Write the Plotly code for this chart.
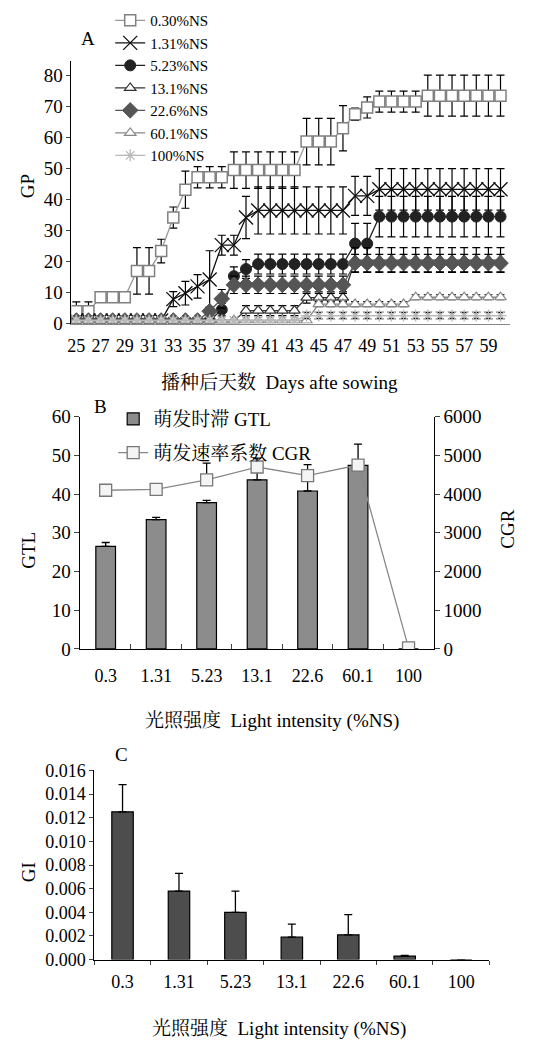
import plotly.graph_objects as go

# ---------------- Panel A data ----------------
days = list(range(25, 61))
day_ticks = list(range(25, 60, 2))

gp_030 = [4, 4, 8.5, 8.5, 8.5, 17, 17, 23.4, 34.2, 43.2, 47.2, 47.2, 47.2,
          49.5, 49.5, 49.5, 49.5, 49.5, 49.5, 58.7, 58.7, 58.7, 63, 67.5, 69.7,
          71.6, 71.6, 71.6, 71.6, 73.5, 73.5, 73.5, 73.5, 73.5, 73.5, 73.5]
err_030 = [3, 3, 0, 0, 0, 7.5, 7.5, 3.8, 3.4, 6, 3.4, 3.4, 3.4,
           5.9, 5.9, 5.9, 5.9, 5.9, 5.9, 7.5, 7.5, 7.5, 7.3, 2, 3.4,
           3.4, 3.4, 3.4, 3.4, 6.6, 6.6, 6.6, 6.6, 6.6, 6.6, 6.6]

gp_131 = [1, 1, 1, 1, 1, 1, 1, 1, 7.9, 9.8, 12, 14.2, 25.3, 25.3, 34.2,
          36.5, 36.5, 36.5, 36.5, 36.5, 36.5, 36.5, 36.5, 41.2, 41.2,
          43.3, 43.3, 43.3, 43.3, 43.3, 43.3, 43.3, 43.3, 43.3, 43.3, 43.3]
err_131 = [0, 0, 0, 0, 0, 0, 0, 0, 2.4, 3.8, 3.8, 9.3, 3.2, 3.2, 6.8,
           7.6, 7.6, 7.6, 7.6, 7.6, 7.6, 7.6, 7.6, 6.3, 6.3,
           6.7, 6.7, 6.7, 6.7, 6.7, 6.7, 6.7, 6.7, 6.7, 6.7, 6.7]

gp_523 = [1, 1, 1, 1, 1, 1, 1, 1, 1, 1, 1, 1, 4.5, 15.3, 17.6,
          19.2, 19.2, 19.2, 19.2, 19.2, 19.2, 19.2, 19.2, 25.8, 25.8,
          34.5, 34.5, 34.5, 34.5, 34.5, 34.5, 34.5, 34.5, 34.5, 34.5, 34.5]
err_523 = [0, 0, 0, 0, 0, 0, 0, 0, 0, 0, 0, 0, 2, 3, 3,
           3.2, 3.2, 3.2, 3.2, 3.2, 3.2, 3.2, 3.2, 6.5, 6.5,
           6.5, 6.5, 6.5, 6.5, 6.5, 6.5, 6.5, 6.5, 6.5, 6.5, 6.5]

gp_1310 = [1, 1, 1, 1, 1, 1, 1, 1, 1, 1, 1, 1, 1, 1,
           4.2, 4.2, 4.2, 4.2, 4.2, 8.4, 8.4, 8.4, 8.4,
           20.5, 20.5, 20.5, 20.5, 20.5, 20.5, 20.5, 20.5, 20.5, 20.5, 20.5, 20.5, 20.5]
err_1310 = [0, 0, 0, 0, 0, 0, 0, 0, 0, 0, 0, 0, 0, 0,
            1.6, 1.6, 1.6, 1.6, 1.6, 1.8, 1.8, 1.8, 1.8,
            4, 4, 4, 4, 4, 4, 4, 4, 4, 4, 4, 4, 4]

gp_226 = [1, 1, 1, 1, 1, 1, 1, 1, 1, 1, 1, 4, 8, 12.5, 12.5,
          12.5, 12.5, 12.5, 12.5, 12.5, 12.5, 12.5, 12.5,
          19.5, 19.5, 19.5, 19.5, 19.5, 19.5, 19.5, 19.5, 19.5, 19.5, 19.5, 19.5, 19.5]
err_226 = [0, 0, 0, 0, 0, 0, 0, 0, 0, 0, 0, 1.5, 3, 2.8, 2.8,
           2.8, 2.8, 2.8, 2.8, 2.8, 2.8, 2.8, 2.8,
           2.8, 2.8, 2.8, 2.8, 2.8, 2.8, 2.8, 2.8, 2.8, 2.8, 2.8, 2.8, 2.8]

gp_601 = [1, 1, 1, 1, 1, 1, 1, 1, 1, 1, 1, 1, 1, 1, 1, 1, 1, 1, 1, 1,
          6.3, 6.3, 6.3, 6.3, 6.3, 6.3, 6.3, 6.3,
          8.5, 8.5, 8.5, 8.5, 8.5, 8.5, 8.5, 8.5]
err_601 = [0] * 20 + [0.8] * 16

gp_100 = [1, 1, 1, 1, 1, 1, 1, 1, 1, 1, 1, 1, 1, 1, 1, 1, 1, 1, 1,
          2.6, 2.6, 2.6, 2.6, 2.6, 2.6, 2.6, 2.6, 2.6, 2.6, 2.6, 2.6, 2.6, 2.6, 2.6, 2.6, 2.6]
err_100 = [0] * 19 + [1] * 17

series_names = ["0.30%NS", "1.31%NS", "5.23%NS", "13.1%NS", "22.6%NS", "60.1%NS", "100%NS"]

# ---------------- Panel B / C data ----------------
light = ["0.3", "1.31", "5.23", "13.1", "22.6", "60.1", "100"]
gtl = [26.5, 33.4, 37.8, 43.7, 40.8, 47.4, 0]
gtl_err = [1.0, 0.6, 0.6, 5.6, 6.8, 5.5, 0]
cgr = [4100, 4120, 4370, 4700, 4480, 4750, 30]
cgr_err = [0, 0, 430, 0, 0, 0, 0]
gi = [0.0125, 0.0058, 0.0040, 0.0019, 0.0021, 0.0003, 0]
gi_err = [0.0023, 0.0015, 0.0018, 0.0011, 0.0017, 0.00005, 0]

W, H = 538, 1050
SERIF = "Liberation Serif, Noto Serif CJK SC, Noto Sans CJK SC, serif"


def px(v):
    return v / W


def py(v):
    return 1 - v / H


fig = go.Figure()


def eb(arr):
    return dict(type="data", array=arr, visible=True, color="black", thickness=1.2, width=4)


styles = [
    dict(line=dict(color="#999999", width=1.3),
         marker=dict(symbol="square", size=11, color="white", line=dict(color="#808080", width=1.5))),
    dict(line=dict(color="#111111", width=1.3),
         marker=dict(symbol="x-thin", size=14, color="#111111", line=dict(color="#111111", width=1.3))),
    dict(line=dict(color="#222222", width=1.3),
         marker=dict(symbol="circle", size=11, color="#222222", line=dict(color="#222222", width=1))),
    dict(line=dict(color="#333333", width=1.3),
         marker=dict(symbol="triangle-up", size=10, color="white", line=dict(color="#333333", width=1.2))),
    dict(line=dict(color="#555555", width=1.3),
         marker=dict(symbol="diamond", size=12, color="#555555", line=dict(color="#555555", width=1))),
    dict(line=dict(color="#888888", width=1.3),
         marker=dict(symbol="triangle-up", size=10, color="white", line=dict(color="#888888", width=1.2))),
    dict(line=dict(color="#b8b8b8", width=1.3),
         marker=dict(symbol="asterisk-open", size=10, color="#b8b8b8", line=dict(color="#b8b8b8", width=1.3))),
]
ys = [gp_030, gp_131, gp_523, gp_1310, gp_226, gp_601, gp_100]
errs = [err_030, err_131, err_523, err_1310, err_226, err_601, err_100]

for name, yv, ev, st in zip(series_names, ys, errs, styles):
    fig.add_trace(go.Scatter(x=days, y=yv, name=name, mode="lines+markers",
                             error_y=eb(ev), xaxis="x", yaxis="y", legend="legend", **st))

# Panel B
fig.add_trace(go.Bar(x=light, y=gtl, name="萌发时滞 GTL", width=0.39,
                     marker=dict(color="#8c8c8c", line=dict(color="black", width=1.2)),
                     error_y=dict(type="data", array=gtl_err, arrayminus=[0] * 7, symmetric=False,
                                  visible=True, color="black", thickness=1.3, width=4),
                     xaxis="x2", yaxis="y2", legend="legend2", legendgroup="g1"))
fig.add_trace(go.Scatter(x=light, y=cgr, name="萌发速率系数 CGR", mode="lines+markers",
                         line=dict(color="#888888", width=1.3),
                         marker=dict(symbol="square", size=12, color="#f4f4f4", line=dict(color="#777777", width=1.3)),
                         error_y=dict(type="data", array=cgr_err, arrayminus=[0] * 7, symmetric=False,
                                      visible=True, color="black", thickness=1.3, width=4),
                         xaxis="x2", yaxis="y3", legend="legend2", legendgroup="g2"))

# Panel C
fig.add_trace(go.Bar(x=light, y=gi, name="GI", width=0.38, showlegend=False,
                     marker=dict(color="#4d4d4d", line=dict(color="black", width=1.2)),
                     error_y=dict(type="data", array=gi_err, arrayminus=[0] * 7, symmetric=False,
                                  visible=True, color="black", thickness=1.3, width=4),
                     xaxis="x3", yaxis="y4"))

tickfont = dict(family=SERIF, size=18, color="black")

fig.update_layout(
    width=W, height=H, margin=dict(l=0, r=0, t=0, b=0),
    paper_bgcolor="white", plot_bgcolor="white",
    font=dict(family=SERIF, size=18, color="black"),
    showlegend=True,
    xaxis=dict(domain=[px(68), px(510)], range=[24.6, 60.8], tickvals=day_ticks,
               showline=True, linecolor="#888888", linewidth=1, ticks="", showgrid=False,
               zeroline=False, tickfont=tickfont, ticklabelstandoff=6, anchor="y"),
    yaxis=dict(domain=[py(320), py(52)], range=[0, 84.7], tickvals=list(range(0, 81, 10)),
               showline=True, linecolor="black", linewidth=1, ticks="outside", ticklen=4,
               showgrid=False, zeroline=False, tickfont=dict(family=SERIF, size=19, color="black"),
               anchor="x"),
    xaxis2=dict(domain=[px(77), px(433)], type="category", categoryorder="array", categoryarray=light,
                showline=True, linecolor="black", linewidth=1, ticks="inside", ticklen=5,
                tickson="boundaries", showgrid=False, tickfont=tickfont, ticklabelstandoff=10,
                anchor="y2"),
    yaxis2=dict(domain=[py(652), py(415)], range=[0, 60], dtick=10,
                showline=True, linecolor="black", linewidth=1, ticks="outside", ticklen=5,
                showgrid=False, zeroline=False, tickfont=dict(family=SERIF, size=19, color="black"),
                anchor="x2"),
    yaxis3=dict(overlaying="y2", side="right", range=[0, 6000], dtick=1000,
                showline=True, linecolor="black", linewidth=1, ticks="outside", ticklen=5,
                showgrid=False, zeroline=False, tickfont=dict(family=SERIF, size=19, color="black"),
                anchor="x2"),
    xaxis3=dict(domain=[px(91), px(489)], type="category", categoryorder="array", categoryarray=light,
                showline=True, linecolor="black", linewidth=1, ticks="outside", ticklen=4,
                tickson="boundaries", showgrid=False, tickfont=tickfont, ticklabelstandoff=6,
                anchor="y4"),
    yaxis4=dict(domain=[py(969), py(776)], range=[0, 0.016], dtick=0.002, tickformat=".3f",
                showline=True, linecolor="black", linewidth=1, ticks="outside", ticklen=4,
                showgrid=False, zeroline=False, tickfont=tickfont, anchor="x3"),
    legend=dict(x=px(107), y=1 + 6 / H, xanchor="left", yanchor="top", bgcolor="rgba(0,0,0,0)",
                font=dict(family=SERIF, size=15, color="black"), tracegroupgap=0, borderwidth=0),
    legend2=dict(x=px(110), y=py(398), xanchor="left", yanchor="top", bgcolor="rgba(0,0,0,0)",
                 font=dict(family=SERIF, size=19, color="black"), tracegroupgap=6, borderwidth=0),
    bargap=0.6,
)

ann = [
    dict(text="A", x=px(85), y=py(29)),
    dict(text="GP", x=px(24), y=py(180), textangle=-90),
    dict(text="播种后天数  Days afte sowing", x=px(278), y=py(380)),
    dict(text="B", x=px(97), y=py(405)),
    dict(text="GTL", x=px(25), y=py(551), textangle=-90),
    dict(text="CGR", x=px(507), y=py(530), textangle=-90),
    dict(text="光照强度  Light intensity (%NS)", x=px(270), y=py(725)),
    dict(text="C", x=px(118), y=py(760)),
    dict(text="GI", x=px(25), y=py(880), textangle=-90),
    dict(text="光照强度  Light intensity (%NS)", x=px(277), y=py(1040)),
]
for a in ann:
    fig.add_annotation(xref="paper", yref="paper", showarrow=False, xanchor="center", yanchor="middle",
                       font=dict(family=SERIF, size=19, color="black"), **a)

fig.write_html("out.html")
